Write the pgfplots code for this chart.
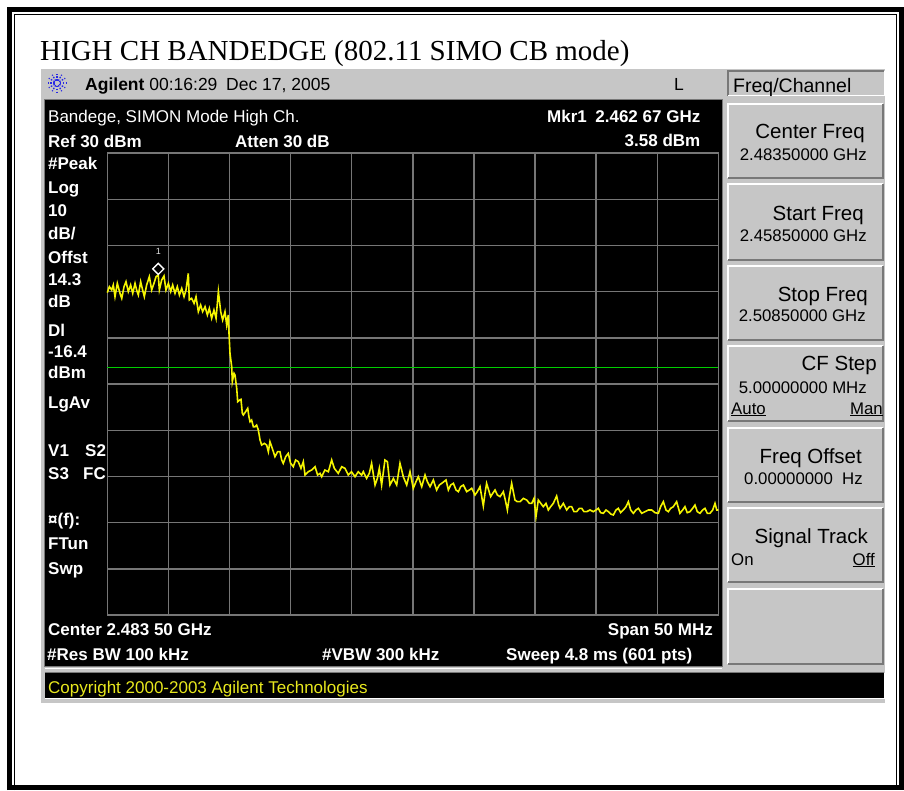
\documentclass[border=0pt]{standalone}
\usepackage{fontspec}
\setmainfont{Liberation Sans}
\newfontfamily\titlefont{Liberation Serif}
\usepackage{pgfplots}
\pgfplotsset{compat=1.18}

\definecolor{panel}{RGB}{198,198,198}
\definecolor{gridc}{RGB}{118,118,118}
\definecolor{trace}{RGB}{245,245,0}
\definecolor{dline}{RGB}{0,205,0}
\definecolor{keydark}{RGB}{120,120,120}
\definecolor{copyy}{RGB}{232,232,30}
\definecolor{agblue}{RGB}{40,40,230}

\tikzset{
  w/.style={anchor=base west, inner sep=0pt, text=white, font=\fontsize{17}{17}\selectfont\bfseries},
  e/.style={anchor=base east, inner sep=0pt, text=white, font=\fontsize{17}{17}\selectfont\bfseries},
  blab/.style={anchor=base east, inner sep=0pt, font=\fontsize{20.5}{20.5}\selectfont},
  bval/.style={anchor=base east, inner sep=0pt, font=\fontsize{16.8}{16.8}\selectfont},
}
% one soft key: x0 y0 x1 y1
\newcommand\softkey[4]{%
  \fill[panel] (#1,#2) rectangle (#3,#4);
  \draw[white, line width=2pt] (#1+1,#4-1) -- (#1+1,#2+1) -- (#3-1,#2+1);
  \draw[keydark, line width=2pt] (#1+1,#4-1) -- (#3-1,#4-1) -- (#3-1,#2+1);
}

\begin{document}
\begin{tikzpicture}
\begin{scope}[x=1pt,y=-1pt]
  \path[use as bounding box] (0,0) rectangle (904,790);
  \fill[white] (0,0) rectangle (904,790);
  % double frame
  \draw[line width=5pt] (9.5,790) -- (9.5,9) -- (901.5,9) -- (901.5,790);
  \draw[line width=5pt] (7,787.5) -- (904,787.5);
  \draw[line width=1.5pt] (14.3,790) -- (14.3,14.3) -- (896.7,14.3) -- (896.7,790);

  \node[anchor=base west, inner sep=0pt, font=\titlefont\fontsize{29}{29}\selectfont]
    at (40,60.5) {HIGH CH BANDEDGE (802.11 SIMO CB mode)};

  % instrument panel
  \fill[panel] (40,68) rectangle (885,703);
  \draw[white, line width=1pt] (40.5,703) -- (40.5,68.5) -- (885,68.5);
  % logo
  \foreach \a in {0,30,...,330}
    \draw[agblue, line width=1.3pt, dash pattern=on 1.6pt off 1.4pt] (57,83) ++(\a:2.5) -- ++(\a:7);
  \node[anchor=base west, inner sep=0pt, font=\fontsize{17.5}{17.5}\selectfont]
    at (85,90) {\textbf{Agilent} 00:16:29\enspace Dec 17, 2005};
  \node[anchor=base west, inner sep=0pt, font=\fontsize{17.5}{17.5}\selectfont] at (674,90) {L};

  % header key
  \fill[panel] (727,70) rectangle (885,96);
  \draw[keydark, line width=2pt] (728,96) -- (728,71) -- (884,71);
  \draw[white, line width=1.5pt] (728,95.5) -- (884.5,95.5) -- (884.5,71);
  \node[anchor=base west, inner sep=0pt, font=\fontsize{19.5}{19.5}\selectfont] at (733,92) {Freq/Channel};

  % soft keys
  \softkey{727}{103}{884}{179}
  \softkey{727}{183}{884}{261}
  \softkey{727}{265}{884}{341}
  \softkey{727}{345}{884}{422}
  \softkey{727}{427}{884}{503}
  \softkey{727}{507}{884}{583}
  \softkey{727}{588}{884}{665}

  \node[blab] at (865,138) {Center Freq};
  \node[bval] at (867,160) {2.48350000 GHz};
  \node[blab] at (864,220) {Start Freq};
  \node[bval] at (867,241) {2.45850000 GHz};
  \node[blab] at (868,301) {Stop Freq};
  \node[bval] at (866,321) {2.50850000 GHz};
  \node[blab] at (877,370.5) {CF Step};
  \node[bval] at (867,393) {5.00000000 MHz};
  \node[bval, anchor=base west] at (731,414) {\underline{Auto}};
  \node[bval] at (883,414) {\underline{Man}};
  \node[blab] at (862,463) {Freq Offset};
  \node[bval] at (863,484) {0.00000000\ \ Hz};
  \node[blab] at (868,543) {Signal Track};
  \node[bval, anchor=base west] at (731,565) {On};
  \node[bval] at (875,565) {\underline{Off}};

  % display
  \fill[black] (45,100) rectangle (722,666);
  \draw[keydark, line width=1.5pt] (44.5,99.5) rectangle (722.5,666.5);
  \draw[white, line width=1pt] (45,668) -- (722,668);
  \fill[black] (45,673) rectangle (884,698);
  \draw[keydark, line width=1pt] (44.5,672.5) -- (884,672.5);
  \draw[white, line width=1pt] (884,673) -- (884,698) -- (45,698);
  \node[anchor=base west, inner sep=0pt, text=copyy, font=\fontsize{17}{17}\selectfont]
    at (48,693) {Copyright 2000-2003 Agilent Technologies};

  % annotations inside display
  \node[w, font=\fontsize{17}{17}\selectfont] at (48,122) {Bandege, SIMON Mode High Ch.};
  \node[w] at (48,147) {Ref 30 dBm};
  \node[w] at (235,147) {Atten 30 dB};
  \node[e] at (700.5,122) {Mkr1\enspace 2.462 67 GHz};
  \node[e] at (700.5,146.5) {3.58 dBm};

  \node[w] at (48,169) {\#Peak};
  \node[w] at (48,193) {Log};
  \node[w] at (48,216) {10};
  \node[w] at (48,239) {dB/};
  \node[w] at (48,263) {Offst};
  \node[w] at (48,285) {14.3};
  \node[w] at (48,307) {dB};
  \node[w] at (48,336) {Dl};
  \node[w] at (48,357) {-16.4};
  \node[w] at (48,378) {dBm};
  \node[w] at (48,408) {LgAv};
  \node[w] at (48,456) {V1};
  \node[w] at (85,456) {S2};
  \node[w] at (48,479) {S3};
  \node[w] at (83,479) {FC};
  \node[w] at (48,525) {¤(f):};
  \node[w] at (48,549) {FTun};
  \node[w] at (48,574) {Swp};

  \node[w] at (48,635) {Center 2.483 50 GHz};
  \node[e] at (713,635) {Span 50 MHz};
  \node[w] at (47,660) {\#Res BW 100 kHz};
  \node[w] at (322,660) {\#VBW 300 kHz};
  \node[w] at (506,660) {Sweep 4.8 ms (601 pts)};
\end{scope}

\begin{axis}[
  at={(107.3pt,-153pt)}, anchor=north west,
  scale only axis, width=611pt, height=462pt,
  xmin=2458.5, xmax=2508.5, ymin=-70, ymax=30,
  xtick={2463.5,2468.5,2473.5,2478.5,2483.5,2488.5,2493.5,2498.5,2503.5},
  ytick={-60,-50,-40,-30,-20,-10,0,10,20},
  xticklabels={}, yticklabels={}, major tick length=0pt,
  grid=major,
  major grid style={draw=gridc, line width=1.4pt},
  axis line style={draw=gridc, line width=1.4pt},
  clip=false,
]
% display line -16.4 dBm
\addplot[dline, line width=1.5pt] coordinates {(2458.5,-16.4) (2508.5,-16.4)};
% trace, MHz / dBm
\addplot[trace, line width=1.6pt] coordinates {
(2458.50,-0.23) (2458.67,1.07) (2458.86,0.35) (2458.99,1.43) (2459.13,-1.10)
(2459.32,1.79) (2459.54,-0.37) (2459.68,-1.46) (2459.87,1.07) (2460.03,2.15)
(2460.22,-0.01) (2460.41,1.43) (2460.58,-0.37) (2460.77,1.79) (2460.90,0.35)
(2461.04,-0.73) (2461.23,2.15) (2461.39,0.35) (2461.53,-1.10) (2461.72,1.43)
(2461.94,3.23) (2462.13,0.35) (2462.32,1.79) (2462.49,3.23) (2462.67,3.58)
(2462.76,0.35) (2462.95,2.51) (2463.14,3.38) (2463.30,0.35) (2463.50,1.79)
(2463.69,-0.01) (2463.85,1.43) (2464.04,-0.37) (2464.23,1.07) (2464.40,-0.73)
(2464.59,0.71) (2464.78,-1.10) (2464.94,0.35) (2465.13,3.95) (2465.21,-1.82)
(2465.40,-1.46) (2465.60,-2.54) (2465.76,-1.10) (2465.95,-4.34) (2466.14,-2.90)
(2466.30,-4.34) (2466.50,-3.26) (2466.69,-5.06) (2466.85,-3.62) (2467.04,-5.79)
(2467.23,-3.98) (2467.40,-5.79) (2467.59,-0.01) (2467.78,-4.34) (2467.94,-6.15)
(2468.13,-4.34) (2468.27,-7.23) (2468.40,-5.06)
(2468.46,-9.04) (2468.54,-13.37) (2468.68,-16.25) (2468.73,-19.50) (2468.87,-17.69)
(2468.95,-18.05) (2469.09,-20.94) (2469.17,-23.83) (2469.33,-23.47) (2469.44,-23.32)
(2469.55,-26.35) (2469.63,-26.71) (2469.82,-25.99) (2469.99,-25.27) (2470.09,-27.07)
(2470.18,-28.16) (2470.31,-27.80) (2470.45,-29.24) (2470.59,-29.24) (2470.72,-28.88)
(2470.86,-29.96) (2471.00,-32.12) (2471.13,-33.21) (2471.35,-32.85) (2471.54,-33.21)
(2471.68,-34.65) (2471.81,-32.48) (2472.00,-33.93) (2472.22,-35.73) (2472.44,-34.65)
(2472.63,-34.65) (2472.77,-36.45) (2472.90,-37.17) (2473.10,-35.73) (2473.31,-35.01)
(2473.50,-37.17) (2473.72,-37.90) (2473.91,-36.45) (2474.13,-36.81) (2474.35,-38.26)
(2474.54,-36.81) (2474.68,-39.70) (2474.95,-38.98) (2475.22,-38.62) (2475.50,-37.90)
(2475.71,-39.70) (2475.91,-39.34) (2476.04,-40.06) (2476.31,-38.62) (2476.59,-38.98)
(2476.86,-36.45) (2477.08,-38.26) (2477.40,-39.34) (2477.68,-37.90) (2477.95,-38.26)
(2478.22,-39.70) (2478.48,-38.98) (2478.77,-40.06) (2479.04,-38.98) (2479.31,-39.70)
(2479.45,-38.97) (2479.72,-40.42) (2479.94,-39.33) (2480.13,-37.17) (2480.41,-41.86)
(2480.60,-40.42) (2480.76,-38.25) (2480.95,-41.86) (2481.22,-36.45) (2481.42,-36.81)
(2481.63,-41.86) (2481.91,-40.42) (2482.18,-41.86) (2482.45,-37.17) (2482.59,-38.61)
(2482.72,-40.06) (2483.00,-41.86) (2483.27,-38.97) (2483.54,-42.58) (2483.76,-41.14)
(2483.95,-40.06) (2484.23,-42.22) (2484.50,-39.69) (2484.69,-41.14) (2484.91,-42.22)
(2485.18,-40.78) (2485.45,-42.94) (2485.67,-41.86) (2485.86,-41.50) (2486.22,-40.78)
(2486.41,-42.94) (2486.60,-41.86) (2486.82,-41.50) (2487.04,-42.94) (2487.23,-43.30)
(2487.42,-42.22) (2487.64,-41.86) (2487.91,-43.30) (2488.13,-42.94) (2488.32,-42.58)
(2488.59,-44.02) (2488.78,-43.30) (2489.00,-42.22) (2489.27,-46.40) (2489.41,-43.66)
(2489.54,-41.50) (2489.87,-44.38) (2490.04,-43.66) (2490.23,-42.94) (2490.42,-44.02)
(2490.64,-44.38) (2490.91,-43.30) (2491.07,-45.11) (2491.24,-47.27) (2491.40,-44.38)
(2491.59,-41.50) (2491.86,-45.11) (2492.05,-45.47) (2492.27,-45.47) (2492.55,-44.75)
(2492.82,-45.11) (2493.04,-45.83) (2493.23,-45.83) (2493.42,-44.75) (2493.58,-48.71)
(2493.77,-45.11)
(2494.18,-46.55) (2494.40,-45.83) (2494.59,-47.27) (2494.78,-46.55) (2495.00,-45.83)
(2495.27,-44.24) (2495.44,-46.19) (2495.55,-46.91) (2495.82,-45.83) (2496.09,-47.27)
(2496.31,-46.55) (2496.50,-46.55) (2496.69,-47.63) (2496.91,-47.63) (2497.13,-46.91)
(2497.32,-46.91) (2497.51,-47.63) (2497.73,-47.63) (2498.00,-47.27) (2498.27,-47.63)
(2498.49,-47.27) (2498.68,-46.91) (2498.87,-47.85) (2499.09,-47.99) (2499.31,-47.27)
(2499.50,-47.63) (2499.69,-48.14) (2499.91,-48.35) (2500.13,-47.27) (2500.32,-46.91)
(2500.51,-47.85) (2500.73,-47.27) (2500.95,-46.55) (2501.14,-45.47) (2501.33,-47.27)
(2501.55,-47.99) (2501.76,-47.27) (2501.96,-46.91) (2502.23,-47.99) (2502.50,-47.63)
(2502.77,-47.27) (2503.05,-47.27) (2503.32,-47.85) (2503.59,-47.99) (2503.78,-46.55)
(2504.00,-45.47) (2504.22,-47.27) (2504.41,-47.63) (2504.60,-46.91) (2504.82,-46.55)
(2505.09,-45.47) (2505.36,-47.99) (2505.58,-47.27) (2505.77,-46.55) (2505.96,-47.85)
(2506.18,-47.63) (2506.40,-46.91) (2506.59,-46.19) (2506.78,-47.63) (2507.00,-47.99)
(2507.22,-47.27) (2507.41,-46.91) (2507.60,-47.99) (2507.82,-47.99) (2508.04,-47.27)
(2508.23,-45.83) (2508.37,-47.27) (2508.50,-47.27)
};
% marker 1
\addplot[only marks, mark=square*, mark size=3.9pt,
  mark options={rotate=45, draw=white, fill=black, line width=1.4pt}]
  coordinates {(2462.67,4.9)};
\node[text=white!80!gray, font=\fontsize{9}{9}\selectfont, inner sep=0pt]
  at (axis cs:2462.67,8.6) {1};
\end{axis}
\end{tikzpicture}
\end{document}
